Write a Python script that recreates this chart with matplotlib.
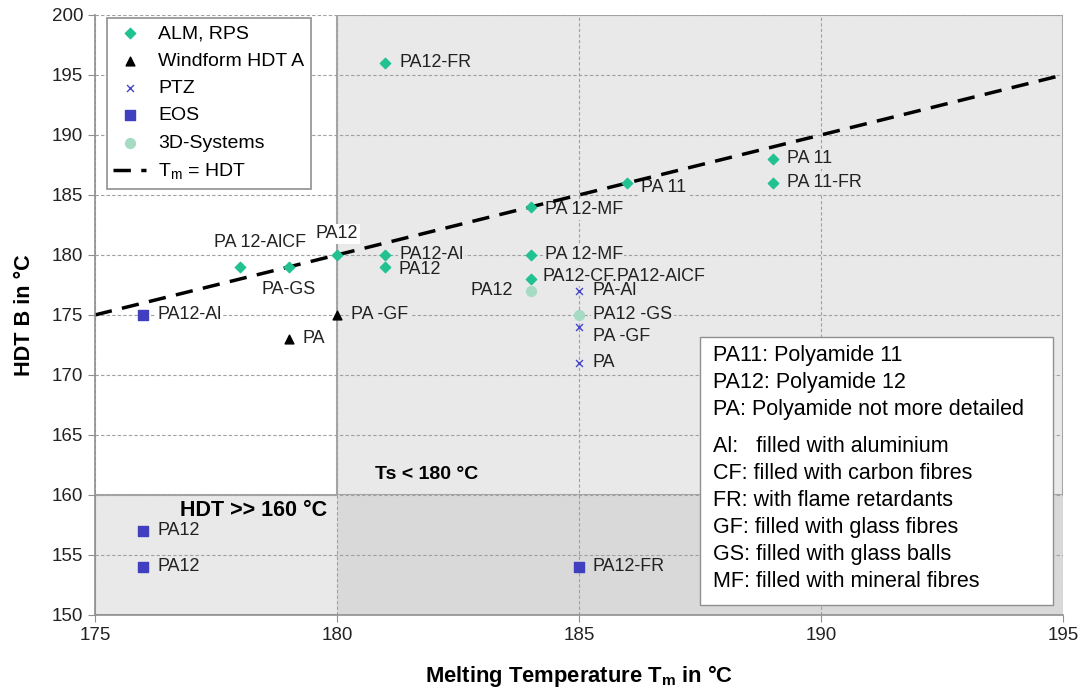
import matplotlib.pyplot as plt
from matplotlib.patches import Rectangle

plt.rcParams['font.family'] = ['Liberation Sans', 'DejaVu Sans']

# data
alm_x = [181, 178, 179, 180, 181, 181, 184, 184, 184, 186, 189, 189]
alm_y = [196, 179, 179, 180, 180, 179, 184, 180, 178, 186, 188, 186]
alm_lab = ['PA12-FR', 'PA 12-AlCF', 'PA-GS', 'PA12', 'PA12-Al', 'PA12', 'PA 12-MF',
           'PA 12-MF', 'PA12-CF,PA12-AlCF', 'PA 11', 'PA 11', 'PA 11-FR']
wf_x = [179, 180]
wf_y = [173, 175]
wf_lab = ['PA', 'PA -GF']
ptz_x = [185, 185, 185]
ptz_y = [177, 174, 171]
ptz_lab = ['PA-Al', 'PA -GF', 'PA']
eos_x = [176, 176, 176, 185]
eos_y = [175, 157, 154, 154]
eos_lab = ['PA12-Al', 'PA12', 'PA12', 'PA12-FR']
d3_x = [184, 185]
d3_y = [177, 175]
d3_lab = ['PA12', 'PA12 -GS']
line_x = [175, 195]
line_y = [175, 195]

notes = ['PA11: Polyamide 11', 'PA12: Polyamide 12', 'PA: Polyamide not more detailed', '',
         'Al:   filled with aluminium', 'CF: filled with carbon fibres', 'FR: with flame retardants',
         'GF: filled with glass fibres', 'GS: filled with glass balls', 'MF: filled with mineral fibres']

# label offsets (pixels)
alm_off = [(14, 0, 'left'), (20, 24, 'center'), (0, -23, 'center'), (0, 21, 'center'),
           (14, 0, 'left'), (13, -3, 'left'), (14, -3, 'left'), (14, 0, 'left'),
           (12, 3, 'left'), (14, -5, 'left'), (14, 0, 'left'), (14, 0, 'left')]
wf_off = [(14, 0, 'left'), (14, 0, 'left')]
ptz_off = [(14, 0, 'left'), (14, -10, 'left'), (14, 0, 'left')]
eos_off = [(14, 0, 'left')] * 4
d3_off = [(-18, 0, 'right'), (14, 0, 'left')]

LIGHT = '#e9e9e9'
DARK = '#d9d9d9'

fig = plt.figure(figsize=(10.84, 6.93), dpi=100)
ax = fig.add_axes([0.0876, 0.1126, 0.893, 0.8658])
ax.set_xlim(175, 195)
ax.set_ylim(150, 200)

# shaded zones
ax.add_patch(Rectangle((180, 150), 15, 50, facecolor=LIGHT, edgecolor='#a6a6a6', lw=1.5, zorder=0))
ax.add_patch(Rectangle((175, 150), 20, 10, facecolor=LIGHT, edgecolor='#a6a6a6', lw=1.5, zorder=0))
ax.add_patch(Rectangle((180, 150), 15, 10, facecolor=DARK, edgecolor='none', zorder=0))

ax.set_xticks(range(175, 196, 5))
ax.set_yticks(range(150, 201, 5))
ax.grid(True, color='#a0a0a0', ls=(0, (3, 2)), lw=0.8, zorder=0.5)
ax.set_axisbelow(True)
for s in ['top', 'right']:
    ax.spines[s].set_visible(False)
for s in ['left', 'bottom']:
    ax.spines[s].set_color('#909090')
    ax.spines[s].set_linewidth(1.2)
ax.tick_params(colors='#909090', labelcolor='#222222', labelsize=13.5, length=5, direction='out')

ax.plot(line_x, line_y, color='black', ls=(0, (5, 3)), lw=2.5, label='T$_\\mathregular{m}$ = HDT', zorder=2)
ax.scatter(alm_x, alm_y, marker='D', s=28, color='#21c292', label='ALM, RPS', zorder=3)
ax.scatter(wf_x, wf_y, marker='^', s=40, color='black', label='Windform HDT A', zorder=3)
ax.scatter(ptz_x, ptz_y, marker='x', s=25, color='#4646c8', lw=1, label='PTZ', zorder=3)
ax.scatter(eos_x, eos_y, marker='s', s=50, color='#3f3fbf', label='EOS', zorder=3)
ax.scatter(d3_x, d3_y, marker='o', s=50, color='#a6dbc3', label='3D-Systems', zorder=3)


def bg(x, y):
    if x < 180 and y > 160:
        return 'white'
    if x >= 180 and y < 160:
        return DARK
    return LIGHT


def labels(xs, ys, labs, offs):
    for x, y, t, (dx, dy, ha) in zip(xs, ys, labs, offs):
        shift = {'left': 0.4, 'right': -0.4, 'center': -0.01}[ha]
        xt = x + dx / 48.4 + shift
        ax.annotate(t, (x, y), xytext=(dx, dy), textcoords='offset pixels',
                    ha=ha, va='center', fontsize=12.9, color='#222222', zorder=1.5,
                    bbox=dict(boxstyle='square,pad=0.1', fc=bg(xt, y), ec='none'))


labels(alm_x, alm_y, alm_lab, alm_off)
labels(wf_x, wf_y, wf_lab, wf_off)
labels(ptz_x, ptz_y, ptz_lab, ptz_off)
labels(eos_x, eos_y, eos_lab, eos_off)
labels(d3_x, d3_y, d3_lab, d3_off)

ax.text(180.78, 161.7, 'Ts < 180 °C', fontsize=14, fontweight='bold', va='center')
ax.text(179.8, 158.7, 'HDT >> 160 °C', fontsize=15.5, fontweight='bold', va='center', ha='right')

# legend order
h, l = ax.get_legend_handles_labels()
order = [1, 2, 3, 4, 5, 0]
leg = ax.legend([h[i] for i in order], [l[i] for i in order], loc='upper left',
                bbox_to_anchor=(0.012, 0.995), fontsize=14, frameon=True, fancybox=False,
                edgecolor='#909090', framealpha=1, handlelength=1.7, handletextpad=0.6,
                labelspacing=0.5, borderpad=0.35, borderaxespad=0)
leg.get_frame().set_linewidth(1.2)
leg.set_zorder(5)

# notes box
ax.add_patch(Rectangle((0.625, 0.017), 0.365, 0.446, transform=ax.transAxes, facecolor='white',
                       edgecolor='#909090', lw=1, zorder=5))
ypos = 0.433
for n in notes:
    if n == '':
        ypos -= 0.018
        continue
    ax.text(0.638, ypos, n, transform=ax.transAxes, fontsize=15.5, va='center', color='black', zorder=6)
    ypos -= 0.045

ax.set_xlabel('Melting Temperature T$_\\mathregular{m}$ in °C', fontsize=15.8, fontweight='bold', labelpad=14)
ax.set_ylabel('HDT B in °C', fontsize=15.6, fontweight='bold', labelpad=12)

fig.savefig('out.png', dpi=100)
